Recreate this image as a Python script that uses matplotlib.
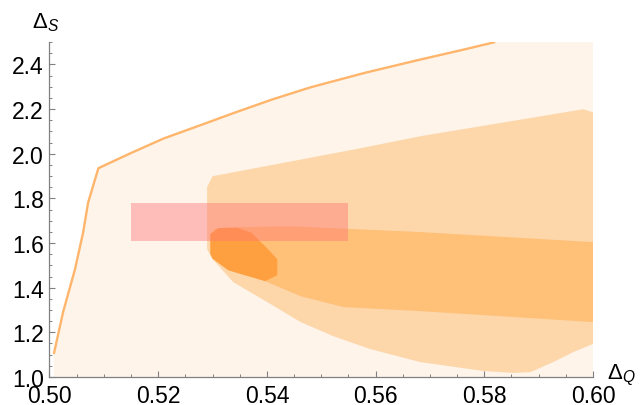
import matplotlib
matplotlib.use("Agg")
from matplotlib import pyplot as plt
from matplotlib.patches import Polygon, Rectangle
import numpy as np

plt.rcParams['font.family'] = ['Liberation Sans', 'DejaVu Sans']
plt.rcParams['mathtext.fontset'] = 'custom'
plt.rcParams['mathtext.rm'] = 'Liberation Sans'
plt.rcParams['mathtext.it'] = 'Liberation Sans:italic'

# boundary curve (upper edge of the allowed region)
line_q = [0.5008, 0.5025, 0.5047, 0.5062, 0.5071, 0.5090, 0.5150, 0.5210, 0.5277,
          0.5340, 0.5410, 0.5480, 0.5580, 0.5683, 0.5760, 0.5820]
line_s = [1.103, 1.290, 1.483, 1.648, 1.780, 1.935, 2.003, 2.068, 2.127,
          2.183, 2.243, 2.297, 2.362, 2.422, 2.465, 2.500]

# outer filled region corners (besides the curve)
outer_q = [0.600, 0.600, 0.5008]
outer_s = [2.500, 1.000, 1.000]

# middle region
mid_q = [0.5300, 0.5563, 0.5682, 0.5982, 0.6000, 0.6000, 0.5964, 0.5927, 0.5885,
         0.5854, 0.5798, 0.5682, 0.5590, 0.5522, 0.5462, 0.5401, 0.5338, 0.5300,
         0.5290, 0.5290]
mid_s = [1.899, 2.020, 2.078, 2.199, 2.185, 1.148, 1.112, 1.067, 1.022,
         1.018, 1.027, 1.067, 1.125, 1.183, 1.246, 1.335, 1.425, 1.528,
         1.572, 1.850]

# inner region
inner_q = [0.5296, 0.5305, 0.5330, 0.5443, 0.5682, 0.6000, 0.6000, 0.5682, 0.5541,
           0.5462, 0.5397, 0.5329, 0.5300, 0.5296]
inner_s = [1.640, 1.665, 1.670, 1.675, 1.649, 1.604, 1.246, 1.295, 1.313,
           1.362, 1.429, 1.478, 1.530, 1.560]

# small core region
core_q = [0.5296, 0.5296, 0.5312, 0.5346, 0.5372, 0.5401, 0.5419, 0.5419, 0.5397,
          0.5329, 0.5300]
core_s = [1.550, 1.640, 1.667, 1.668, 1.645, 1.575, 1.528, 1.456, 1.429,
          1.478, 1.530]

# pink box
box_q = (0.515, 0.555)
box_s = (1.61, 1.78)

fig = plt.figure(figsize=(6.4, 4.06), dpi=100)
ax = fig.add_axes([0.0773, 0.069, 0.8493, 0.825])

outer = Polygon(np.column_stack([line_q + outer_q, line_s + outer_s]),
                closed=True, facecolor='#FEF4EA', edgecolor='none', zorder=1)
ax.add_patch(outer)
ax.add_patch(Polygon(np.column_stack([mid_q, mid_s]), closed=True,
                     facecolor='#FDD6AA', edgecolor='none', zorder=2))
ax.add_patch(Polygon(np.column_stack([inner_q, inner_s]), closed=True,
                     facecolor='#FFC078', edgecolor='none', zorder=3))
ax.add_patch(Polygon(np.column_stack([core_q, core_s]), closed=True,
                     facecolor='#FFA040', edgecolor='none', zorder=4))
ax.add_patch(Rectangle((box_q[0], box_s[0]), box_q[1] - box_q[0], box_s[1] - box_s[0],
                       facecolor=(1.0, 0.45, 0.45), alpha=0.42, edgecolor='none', zorder=5))
ax.plot(line_q, line_s, color='#FFB56B', lw=1.7, zorder=6, solid_capstyle='butt')

ax.set_xlim(0.50, 0.60)
ax.set_ylim(1.0, 2.5)
ax.set_xticks(np.arange(0.50, 0.601, 0.02))
ax.set_xticks(np.arange(0.50, 0.601, 0.005), minor=True)
ax.set_yticks(np.arange(1.0, 2.41, 0.2))
ax.set_yticks(np.arange(1.0, 2.51, 0.05), minor=True)
ax.xaxis.set_major_formatter(matplotlib.ticker.FormatStrFormatter('%.2f'))
ax.yaxis.set_major_formatter(matplotlib.ticker.FormatStrFormatter('%.1f'))

for side in ['top', 'right']:
    ax.spines[side].set_visible(False)
for side in ['left', 'bottom']:
    ax.spines[side].set_color('#808080')
    ax.spines[side].set_linewidth(0.9)
    ax.spines[side].set_zorder(7)

ax.tick_params(which='major', direction='in', length=4, width=0.8, color='#808080',
               labelsize=16.5, labelcolor='black')
ax.tick_params(which='minor', direction='in', length=2.5, width=0.7, color='#808080')
ax.tick_params(axis='x', which='major', pad=5)
ax.tick_params(axis='y', which='major', pad=4)

fig.text(0.050, 0.945, r'$\Delta_{S}$', fontsize=16, ha='left', va='center')
fig.text(0.948, 0.075, r'$\Delta_{Q}$', fontsize=16, ha='left', va='center')

fig.savefig('out.png', dpi=100)
